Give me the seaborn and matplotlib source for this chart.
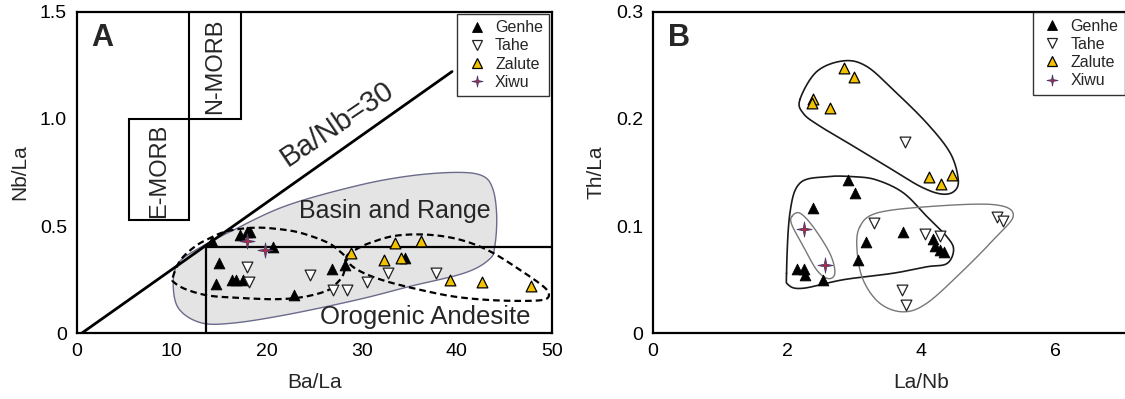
import numpy as np
import pandas as pd
import matplotlib
matplotlib.use("Agg")
import matplotlib.pyplot as plt
from matplotlib.path import Path
from matplotlib.patches import Rectangle, Polygon
from matplotlib.lines import Line2D
import seaborn as sns

sns.set_theme(style="white")
plt.rcParams["font.family"] = ["Liberation Sans", "DejaVu Sans"]

# ---------------- Panel A: Nb/La vs Ba/La ----------------
genhe_a_x = [14.2, 15.0, 14.7, 16.3, 16.8, 17.5, 17.2, 17.9, 18.2, 20.7, 22.9, 26.9, 28.2, 34.6]
genhe_a_y = [0.43, 0.33, 0.23, 0.25, 0.25, 0.25, 0.46, 0.47, 0.47, 0.40, 0.18, 0.30, 0.32, 0.35]
tahe_a_x = [17.9, 18.1, 24.5, 27.0, 28.4, 30.5, 32.8, 37.8]
tahe_a_y = [0.31, 0.24, 0.27, 0.20, 0.20, 0.24, 0.28, 0.28]
zalute_a_x = [28.9, 33.5, 36.2, 32.3, 34.1, 39.3, 42.7, 47.8]
zalute_a_y = [0.375, 0.42, 0.43, 0.34, 0.35, 0.25, 0.24, 0.22]
xiwu_a_x = [17.9, 19.8]
xiwu_a_y = [0.43, 0.39]

# ---------------- Panel B: Th/La vs La/Nb ----------------
genhe_b_x = [2.91, 3.01, 2.38, 2.14, 2.25, 2.27, 2.54, 3.17, 3.06, 3.72, 4.17, 4.21, 4.27, 4.34]
genhe_b_y = [0.143, 0.131, 0.117, 0.060, 0.060, 0.054, 0.050, 0.085, 0.068, 0.094, 0.088, 0.081, 0.078, 0.076]
tahe_b_x = [3.75, 3.29, 4.06, 4.28, 5.12, 5.21, 3.71, 3.77]
tahe_b_y = [0.178, 0.1025, 0.0925, 0.091, 0.108, 0.105, 0.040, 0.026]
zalute_b_x = [2.85, 3.00, 2.39, 2.37, 2.64, 4.12, 4.29, 4.45]
zalute_b_y = [0.247, 0.239, 0.218, 0.215, 0.210, 0.146, 0.139, 0.148]
xiwu_b_x = [2.25, 2.57]
xiwu_b_y = [0.097, 0.064]

groups = ["Genhe", "Tahe", "Zalute", "Xiwu"]

# Field outlines (data units)
basin_range_x = [10.15, 10.7, 12.9, 16.3, 22.0, 29.5, 35.1, 40.0, 42.7, 43.8, 44.2, 44.0, 43.4,
                 40.8, 35.1, 29.5, 22.0, 16.3, 13.0, 10.7]
basin_range_y = [0.234, 0.328, 0.398, 0.477, 0.594, 0.688, 0.734, 0.75, 0.734, 0.672, 0.547,
                 0.406, 0.344, 0.281, 0.219, 0.156, 0.086, 0.047, 0.05, 0.117]
dash_left_x = [10.1, 10.9, 12.3, 13.7, 15.8, 18.6, 21.0, 23.5, 26.3, 27.6, 28.25, 28.1, 27.4,
               26.3, 23.8, 21.0, 17.5, 14.0, 11.6, 10.3]
dash_left_y = [0.26, 0.34, 0.40, 0.437, 0.476, 0.492, 0.487, 0.469, 0.425, 0.385, 0.35, 0.28,
               0.235, 0.198, 0.169, 0.159, 0.164, 0.175, 0.203, 0.235]
dash_right_x = [28.4, 29.5, 30.9, 33.3, 36.1, 38.9, 41.4, 43.8, 46.6, 49.1, 49.7, 49.1, 46.6,
                43.1, 39.6, 36.1, 32.6, 30.2, 28.8]
dash_right_y = [0.359, 0.394, 0.422, 0.453, 0.461, 0.45, 0.422, 0.375, 0.297, 0.219, 0.18,
                0.156, 0.151, 0.156, 0.172, 0.203, 0.242, 0.281, 0.32]

env_zalute_x = [2.19, 2.44, 2.84, 3.18, 3.58, 4.08, 4.43, 4.55, 4.48, 4.28, 3.98, 3.58, 3.08, 2.49, 2.24]
env_zalute_y = [0.218, 0.244, 0.254, 0.249, 0.227, 0.196, 0.168, 0.143, 0.132, 0.130, 0.137,
                0.152, 0.171, 0.193, 0.205]
env_genhe_x = [1.99, 2.04, 2.19, 2.59, 2.99, 3.33, 3.73, 4.08, 4.38, 4.48, 4.38, 4.08, 3.58,
               2.84, 2.24, 2.02]
env_genhe_y = [0.056, 0.112, 0.140, 0.146, 0.146, 0.143, 0.131, 0.109, 0.090, 0.078, 0.065,
               0.062, 0.056, 0.050, 0.042, 0.045]
env_xiwu_x = [2.07, 2.19, 2.39, 2.64, 2.71, 2.61, 2.44, 2.24, 2.07]
env_xiwu_y = [0.109, 0.112, 0.099, 0.074, 0.056, 0.051, 0.059, 0.081, 0.101]
env_tahe_x = [3.08, 3.33, 4.08, 5.07, 5.37, 5.07, 4.58, 4.08, 3.73, 3.38, 3.13, 3.04]
env_tahe_y = [0.099, 0.112, 0.118, 0.120, 0.110, 0.087, 0.056, 0.028, 0.020, 0.028, 0.050, 0.078]


def closed_curve(xs, ys, n=30):
    """Closed Catmull-Rom spline through the given outline vertices."""
    p = np.column_stack([xs, ys]).astype(float)
    m = len(p)
    out = []
    t = np.linspace(0, 1, n, endpoint=False)[:, None]
    for i in range(m):
        p0, p1, p2, p3 = p[(i - 1) % m], p[i], p[(i + 1) % m], p[(i + 2) % m]
        seg = 0.5 * ((2 * p1) + (-p0 + p2) * t + (2 * p0 - 5 * p1 + 4 * p2 - p3) * t ** 2
                     + (-p0 + 3 * p1 - 3 * p2 + p3) * t ** 3)
        out.append(seg)
    out = np.vstack(out)
    return np.vstack([out, out[:1]])


star_verts = [(0, 1), (0.16, 0.16), (1, 0), (0.16, -0.16), (0, -1), (-0.16, -0.16),
              (-1, 0), (-0.16, 0.16), (0, 1)]
star = Path(star_verts, [Path.MOVETO] + [Path.LINETO] * 7 + [Path.CLOSEPOLY])

styles = {
    "Genhe": dict(marker="^", color="black", edgecolor="black", s=60, linewidth=0.6),
    "Tahe": dict(marker="v", color="white", edgecolor="#222222", s=60, linewidth=0.9),
    "Zalute": dict(marker="^", color="#f2c200", edgecolor="black", s=60, linewidth=0.9),
    "Xiwu": dict(marker=star, color="#b0283c", edgecolor="#4a3c70", s=120, linewidth=0.6),
}


def make_frame(xs_list, ys_list):
    frames = []
    for g, xs, ys in zip(groups, xs_list, ys_list):
        frames.append(pd.DataFrame({"x": xs, "y": ys, "group": g}))
    return pd.concat(frames, ignore_index=True)


df_a = make_frame([genhe_a_x, tahe_a_x, zalute_a_x, xiwu_a_x],
                  [genhe_a_y, tahe_a_y, zalute_a_y, xiwu_a_y])
df_b = make_frame([genhe_b_x, tahe_b_x, zalute_b_x, xiwu_b_x],
                  [genhe_b_y, tahe_b_y, zalute_b_y, xiwu_b_y])

fig = plt.figure(figsize=(11.25, 3.99), dpi=100)
bottom, height = 65.7 / 399, 321.8 / 399
axA = fig.add_axes([76.8 / 1125, bottom, 475.0 / 1125, height])
axB = fig.add_axes([653.0 / 1125, bottom, 8 * 67.1 / 1125, height])


def plot_points(ax, df):
    for g in groups:
        sub = df[df["group"] == g]
        st = styles[g]
        sns.scatterplot(data=sub, x="x", y="y", ax=ax, marker=st["marker"], color=st["color"],
                        edgecolor=st["edgecolor"], s=st["s"], linewidth=st["linewidth"],
                        zorder=5, legend=False)


def add_legend(ax, **kw):
    handles = []
    for g in groups:
        st = styles[g]
        ms = 8 if g == "Xiwu" else 6.5
        handles.append(Line2D([], [], linestyle="none", marker=st["marker"], markersize=ms,
                              markerfacecolor=st["color"], markeredgecolor=st["edgecolor"],
                              markeredgewidth=st["linewidth"]))
    leg = ax.legend(handles, groups, frameon=True, fancybox=False, fontsize=11.5,
                    handletextpad=0.35, labelspacing=0.2, borderpad=0.4,
                    handlelength=1.6, **kw)
    leg.get_frame().set_edgecolor("black")
    leg.get_frame().set_linewidth(1.0)
    leg.set_zorder(10)


# ---- Panel A ----
curve = closed_curve(basin_range_x, basin_range_y)
axA.add_patch(Polygon(curve, closed=True, facecolor="#e4e4e4", edgecolor="#6b6b8c",
                      linewidth=1.0, zorder=1))
for xs, ys in [(dash_left_x, dash_left_y), (dash_right_x, dash_right_y)]:
    c = closed_curve(xs, ys)
    axA.plot(c[:, 0], c[:, 1], color="black", linestyle=(0, (3, 1.8)), linewidth=1.6, zorder=3)

axA.add_patch(Rectangle((5.5, 0.53), 6.3, 0.47, fill=False, edgecolor="black", linewidth=1.5, zorder=2))
axA.add_patch(Rectangle((11.8, 1.0), 5.5, 0.5, fill=False, edgecolor="black", linewidth=1.5, zorder=2))
axA.plot([0.5, 39.5], [0.0, 1.22], color="black", linewidth=2.0, zorder=2)
axA.plot([13.6, 50], [0.4, 0.4], color="black", linewidth=1.6, zorder=2)
axA.plot([13.6, 13.6], [0.0, 0.4], color="black", linewidth=1.6, zorder=2)

plot_points(axA, df_a)

axA.text(8.65, 0.755, "E-MORB", rotation=90, ha="center", va="center", fontsize=17)
axA.text(14.6, 1.245, "N-MORB", rotation=90, ha="center", va="center", fontsize=17)
axA.text(27.4, 0.975, "Ba/Nb=30", rotation=34, ha="center", va="center", fontsize=21,
         rotation_mode="anchor")
axA.text(33.5, 0.57, "Basin and Range", ha="center", va="center", fontsize=18, zorder=4)
axA.text(36.7, 0.075, "Orogenic Andesite", ha="center", va="center", fontsize=18.5, zorder=4)
axA.text(0.03, 0.965, "A", transform=axA.transAxes, ha="left", va="top", fontsize=22,
         fontweight="bold")

axA.set_xlim(0, 50)
axA.set_ylim(0, 1.5)
axA.set_xticks([0, 10, 20, 30, 40, 50])
axA.set_yticks([0, 0.5, 1.0, 1.5])
axA.set_yticklabels(["0", "0.5", "1.0", "1.5"])
axA.set_xlabel("Ba/La", fontsize=15, labelpad=9)
axA.set_ylabel("Nb/La", fontsize=15, labelpad=8)
add_legend(axA, loc="upper right", borderaxespad=0.15)

# ---- Panel B ----
for xs, ys, col, lw in [(env_zalute_x, env_zalute_y, "#1a1a1a", 1.2),
                        (env_genhe_x, env_genhe_y, "#1a1a1a", 1.2),
                        (env_xiwu_x, env_xiwu_y, "#777777", 1.0),
                        (env_tahe_x, env_tahe_y, "#777777", 1.0)]:
    c = closed_curve(xs, ys)
    axB.plot(c[:, 0], c[:, 1], color=col, linewidth=lw, zorder=2)

plot_points(axB, df_b)

axB.text(0.028, 0.965, "B", transform=axB.transAxes, ha="left", va="top", fontsize=22,
         fontweight="bold")
axB.set_xlim(0, 8)
axB.set_ylim(0, 0.3)
axB.set_xticks([0, 2, 4, 6])
axB.set_yticks([0, 0.1, 0.2, 0.3])
axB.set_yticklabels(["0", "0.1", "0.2", "0.3"])
axB.set_xlabel("La/Nb", fontsize=15, labelpad=9)
axB.set_ylabel("Th/La", fontsize=15, labelpad=8)
add_legend(axB, loc="upper left", bbox_to_anchor=(0.708, 0.998), borderaxespad=0.0)

for ax in (axA, axB):
    for sp in ax.spines.values():
        sp.set_color("black")
        sp.set_linewidth(1.6)
    ax.tick_params(direction="in", length=5, width=1.3, labelsize=14, colors="black",
                   pad=7)
    ax.grid(False)

fig.savefig("out.png", dpi=100)
